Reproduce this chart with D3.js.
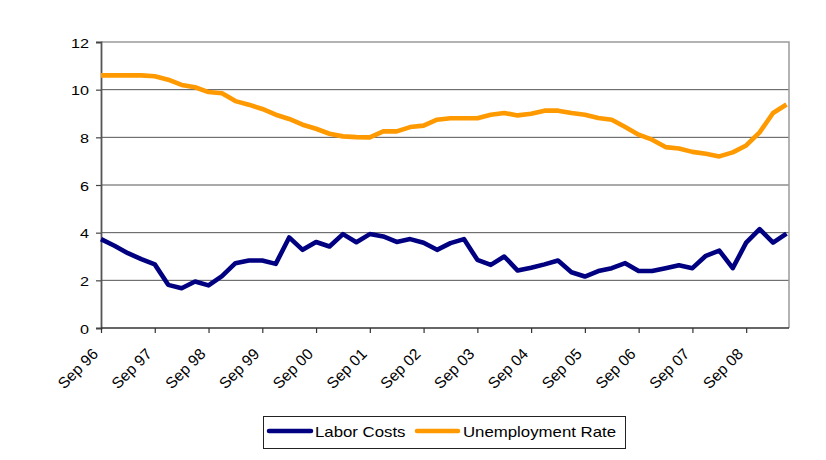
<!DOCTYPE html>
<html>
<head>
<meta charset="utf-8">
<script src="https://cdn.jsdelivr.net/npm/d3@7"></script>
<style>
  html, body { margin: 0; padding: 0; background: #fff; }
  text { font-family: "Liberation Sans", Arial, sans-serif; fill: #000; }
</style>
</head>
<body>
<svg id="chart" width="826" height="460"></svg>
<script>
// Quarterly observations, Sep 96 .. Jun 09 (52 quarters)
const laborCosts = [
  3.73, 3.45, 3.14, 2.89, 2.67, 1.81, 1.67, 1.95, 1.79, 2.18, 2.72, 2.83, 2.83,
  2.69, 3.80, 3.28, 3.61, 3.42, 3.94, 3.60, 3.94, 3.84, 3.61, 3.73, 3.58, 3.28,
  3.56, 3.73, 2.86, 2.65, 3.00, 2.41, 2.53, 2.67, 2.83, 2.34, 2.16, 2.39, 2.51,
  2.72, 2.39, 2.39, 2.51, 2.63, 2.51, 3.03, 3.25, 2.51, 3.58, 4.15, 3.58, 3.96
];

const unemploymentRate = [
  10.6, 10.6, 10.6, 10.6, 10.56, 10.42, 10.2, 10.1, 9.9, 9.85, 9.52, 9.37, 9.19,
  8.95, 8.77, 8.53, 8.36, 8.15, 8.04, 8.01, 8.0, 8.25, 8.25, 8.43, 8.49, 8.74,
  8.8, 8.8, 8.8, 8.95, 9.02, 8.92, 8.99, 9.12, 9.12, 9.02, 8.95, 8.81, 8.74,
  8.43, 8.11, 7.9, 7.59, 7.53, 7.39, 7.31, 7.2, 7.37, 7.66, 8.21, 9.02, 9.38
];

const xTickLabels = ["Sep 96", "Sep 97", "Sep 98", "Sep 99", "Sep 00", "Sep 01",
  "Sep 02", "Sep 03", "Sep 04", "Sep 05", "Sep 06", "Sep 07", "Sep 08"];
const yTicks = [0, 2, 4, 6, 8, 10, 12];

const seriesNames = ["Labor Costs", "Unemployment Rate"];
const seriesColors = ["#000080", "#FF9900"];

const svg = d3.select("#chart");
const plot = { left: 101, right: 789, top: 42, bottom: 328 };

const x = d3.scaleLinear().domain([0, laborCosts.length - 1]).range([101, 786.5]);
const y = d3.scaleLinear().domain([0, 12]).range([plot.bottom, plot.top]);
const SX = 1.2;

// gridlines
svg.append("g").selectAll("line").data(yTicks.filter(d => d > 0 && d < 12)).join("line")
  .attr("x1", plot.left).attr("x2", plot.right)
  .attr("y1", d => y(d)).attr("y2", d => y(d))
  .attr("stroke", "#555").attr("stroke-width", 1);

// plot border (top & right)
svg.append("path")
  .attr("d", `M${plot.left},${y(12)}H${plot.right}V${plot.bottom}`)
  .attr("fill", "none").attr("stroke", "#9a9a9a").attr("stroke-width", 1.5);

// y axis
const yAxis = d3.axisLeft(y).tickValues(yTicks).tickSize(5).tickPadding(8);
const gy = svg.append("g").attr("transform", `translate(${plot.left},0)`).call(yAxis);
gy.select(".domain").attr("stroke", "#555").attr("stroke-width", 1.8);
gy.selectAll(".tick line").attr("stroke", "#444").attr("stroke-width", 1.2);
gy.selectAll(".tick text").each(function (d) {
  const t = d3.select(this);
  t.attr("x", null).attr("dy", null)
   .attr("transform", `translate(-12,5) scale(${SX},1)`)
   .style("font-size", "13.5px").style("font-family", "Liberation Sans, Arial, sans-serif")
   .attr("fill", "#000").attr("text-anchor", "end");
});

// x axis
const tickIdx = xTickLabels.map((_, i) => i * 4);
const xAxis = d3.axisBottom(x).tickValues(tickIdx).tickSize(5).tickFormat("");
const gx = svg.append("g").attr("transform", `translate(0,${plot.bottom})`).call(xAxis);
gx.select(".domain").attr("d", `M${plot.left},0H${plot.right}`).attr("stroke", "#333").attr("stroke-width", 1.6);
gx.selectAll(".tick line").attr("stroke", "#333").attr("stroke-width", 1.2);

svg.append("g").selectAll("text").data(xTickLabels).join("text")
  .attr("text-anchor", "end")
  .attr("transform", (d, i) => `translate(${x(i * 4) - 2},${plot.bottom + 27}) rotate(-45)`)
  .style("font-size", "15.5px")
  .text(d => d);

// lines
const line = d3.line().x((d, i) => x(i)).y(d => y(d));
[laborCosts, unemploymentRate].forEach((s, k) => {
  svg.append("path").datum(s)
    .attr("d", line)
    .attr("fill", "none")
    .attr("stroke", seriesColors[k])
    .attr("stroke-width", 4.6)
    .attr("stroke-linejoin", "round");
});

// legend
const lg = svg.append("g");
lg.append("rect").attr("x", 263.5).attr("y", 416.5).attr("width", 362).attr("height", 32)
  .attr("fill", "#fff").attr("stroke", "#222").attr("stroke-width", 1);
const legendItems = [
  { x1: 269, x2: 311, tx: 315 },
  { x1: 417, x2: 458, tx: 463 }
];
legendItems.forEach((it, k) => {
  lg.append("line").attr("x1", it.x1).attr("x2", it.x2).attr("y1", 431).attr("y2", 431)
    .attr("stroke", seriesColors[k]).attr("stroke-width", 4.5).attr("stroke-linecap", "round");
  lg.append("text").attr("transform", `translate(${it.tx},436.5) scale(${SX},1)`)
    .style("font-size", "14px").text(seriesNames[k]);
});
</script>
</body>
</html>
